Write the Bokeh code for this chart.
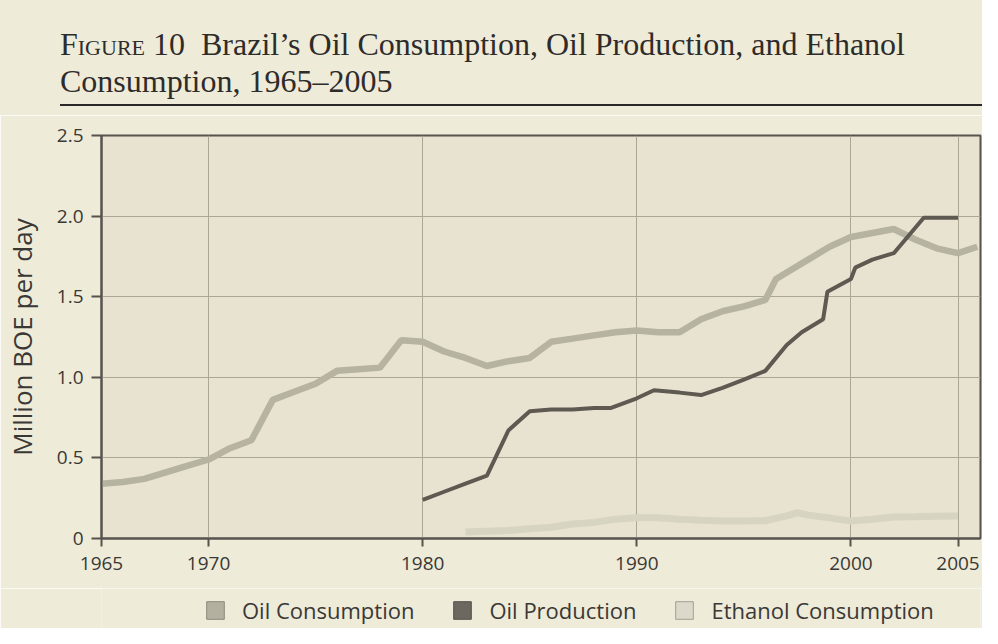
from bokeh.plotting import figure
from bokeh.layouts import column
from bokeh.models import Legend, LegendItem, FixedTicker, Range1d, Div
from bokeh.embed import file_html
from bokeh.resources import INLINE

# ---------------- data ----------------
cons_years = [1965, 1966, 1967, 1968, 1969, 1970, 1971, 1972, 1973, 1974, 1975,
              1976, 1977, 1978, 1979, 1980, 1981, 1982, 1983, 1984, 1985, 1986,
              1987, 1988, 1989, 1990, 1991, 1992, 1993, 1994, 1995, 1996, 1996.5,
              1997, 1998, 1999, 2000, 2001, 2002, 2003, 2004, 2005, 2005.9]
cons_values = [0.34, 0.35, 0.37, 0.41, 0.45, 0.49, 0.56, 0.61, 0.86, 0.91, 0.96,
               1.04, 1.05, 1.06, 1.23, 1.22, 1.16, 1.12, 1.07, 1.10, 1.12, 1.22,
               1.24, 1.26, 1.28, 1.29, 1.28, 1.28, 1.36, 1.41, 1.44, 1.48, 1.61,
               1.65, 1.73, 1.81, 1.87, 1.895, 1.92, 1.855, 1.80, 1.77, 1.81]

prod_years = [1980, 1981, 1982, 1983, 1984, 1985, 1986, 1987, 1988, 1988.8, 1990,
              1990.8, 1992, 1993, 1994, 1995, 1996, 1997, 1997.7, 1998.7, 1998.9,
              2000, 2000.2, 2001, 2002, 2003.4, 2004, 2005]
prod_values = [0.24, 0.29, 0.34, 0.39, 0.67, 0.79, 0.80, 0.80, 0.81, 0.81, 0.87,
               0.92, 0.905, 0.89, 0.935, 0.985, 1.04, 1.20, 1.28, 1.36, 1.53,
               1.61, 1.68, 1.73, 1.77, 1.99, 1.99, 1.99]

eth_years = [1982, 1983, 1984, 1985, 1986, 1987, 1988, 1989, 1990, 1991, 1992,
             1993, 1994, 1995, 1996, 1997, 1997.5, 1998, 1999, 2000, 2001, 2002,
             2003, 2004, 2005]
eth_values = [0.04, 0.045, 0.05, 0.06, 0.07, 0.09, 0.10, 0.12, 0.128, 0.128, 0.12,
              0.113, 0.108, 0.108, 0.11, 0.14, 0.16, 0.145, 0.128, 0.108, 0.12, 0.133,
              0.135, 0.138, 0.14]

x_ticks = [1965, 1970, 1980, 1990, 2000, 2005]
y_ticks = [0, 0.5, 1.0, 1.5, 2.0, 2.5]
y_tick_labels = ["0", "0.5", "1.0", "1.5", "2.0", "2.5"]
series_names = ["Oil Consumption", "Oil Production", "Ethanol Consumption"]
y_axis_title = "Million BOE per day"
fig_label = "Figure 10"
title_line1 = "Brazil\u2019s Oil Consumption, Oil Production, and Ethanol"
title_line2 = "Consumption, 1965\u20132005"

# ---------------- styling ----------------
PAGE_BG = "#eeebd9"
PLOT_BG = "#e7e3d0"
GRID = "#aaa795"
FRAME = "#57534d"
TEXT = "#3a3835"
TITLE_C = "#2e2c2a"
C_CONS = "#b6b3a0"
C_PROD = "#5e5951"
C_ETH = "#d7d4c2"

W = 982
TITLE_H = 115
MAIN_H = 473
LEG_H = 628 - TITLE_H - MAIN_H

title_html = (
    f'<div style="position:relative;width:{W}px;height:{TITLE_H}px;background:{PAGE_BG};'
    f'font-family:\'Liberation Serif\',serif;color:{TITLE_C};">'
    f'<div style="position:absolute;left:60px;top:26px;font-size:32px;line-height:37px;white-space:nowrap;">'
    f'<span style="font-variant:small-caps;">{fig_label.split()[0]}</span> {fig_label.split()[1]}&nbsp; '
    f'{title_line1}<br>{title_line2}</div>'
    f'<div style="position:absolute;left:60px;width:{W - 60}px;top:104px;height:2px;background:#2a2826;"></div>'
    f'</div>'
)
title_div = Div(text=title_html, width=W, height=TITLE_H, margin=0)

p = figure(width=W, height=MAIN_H, output_backend="svg", toolbar_location=None,
           x_range=Range1d(1965, 2006.05), y_range=Range1d(0, 2.5),
           min_border_left=100, min_border_right=2, min_border_top=20,
           min_border_bottom=50, margin=0)
p.border_fill_color = PAGE_BG
p.background_fill_color = PLOT_BG
p.outline_line_color = FRAME
p.outline_line_width = 2

# lines
p.line(cons_years, cons_values, line_color=C_CONS, line_width=6.5)
p.line(eth_years, eth_values, line_color=C_ETH, line_width=7)
p.line(prod_years, prod_values, line_color=C_PROD, line_width=4)

# axes
xa = p.xaxis[0]
xa.ticker = FixedTicker(ticks=x_ticks)
ya = p.yaxis[0]
ya.ticker = FixedTicker(ticks=y_ticks)
ya.major_label_overrides = {t: l for t, l in zip(y_ticks, y_tick_labels)}
ya.axis_label = y_axis_title
for ax in (xa, ya):
    ax.axis_line_color = FRAME
    ax.axis_line_width = 2
    ax.major_tick_line_color = FRAME
    ax.major_tick_line_width = 2
    ax.major_tick_in = 0
    ax.minor_tick_line_color = None
    ax.major_label_text_font = "Open Sans"
    ax.major_label_text_font_size = "19px"
    ax.major_label_text_color = TEXT
xa.major_tick_out = 8
xa.major_label_standoff = 10
ya.major_tick_out = 10
ya.major_label_standoff = 8
ya.axis_label_text_font = "Open Sans"
ya.axis_label_text_font_size = "26px"
ya.axis_label_text_font_style = "normal"
ya.axis_label_text_color = TEXT
ya.axis_label_standoff = 14

p.xgrid.ticker = FixedTicker(ticks=x_ticks[1:])
p.ygrid.ticker = FixedTicker(ticks=y_ticks[1:-1])
for g in (p.xgrid[0], p.ygrid[0]):
    g.grid_line_color = GRID
    g.grid_line_width = 1

# legend strip (separate small figure so nothing is clipped)
lg = figure(width=W, height=LEG_H, output_backend="svg", toolbar_location=None,
            x_axis_type=None, y_axis_type=None, min_border=0, margin=0,
            x_range=Range1d(0, 1), y_range=Range1d(0, 1))
lg.border_fill_color = PAGE_BG
lg.background_fill_color = PAGE_BG
lg.outline_line_color = None
lg.grid.visible = False
nan = float("nan")
r_c = lg.quad(left=[nan], right=[nan], top=[nan], bottom=[nan],
              fill_color="#b3b0a0", line_color="#8c897d")
r_p = lg.quad(left=[nan], right=[nan], top=[nan], bottom=[nan],
              fill_color="#6c675f", line_color="#55524b")
r_e = lg.quad(left=[nan], right=[nan], top=[nan], bottom=[nan],
              fill_color="#dcd9ca", line_color="#a09e93")
legend = Legend(items=[LegendItem(label=series_names[0], renderers=[r_c]),
                       LegendItem(label=series_names[1], renderers=[r_p]),
                       LegendItem(label=series_names[2], renderers=[r_e])],
                orientation="horizontal", location=(103, 3),
                glyph_width=22, glyph_height=22, label_standoff=16, spacing=37,
                padding=0, margin=0, background_fill_alpha=0, border_line_alpha=0,
                label_text_font="Open Sans", label_text_font_size="22px",
                label_text_color=TEXT)
lg.add_layout(legend)

layout = column(title_div, p, lg, spacing=0, margin=0)
open("out.html", "w").write(file_html(layout, INLINE))
